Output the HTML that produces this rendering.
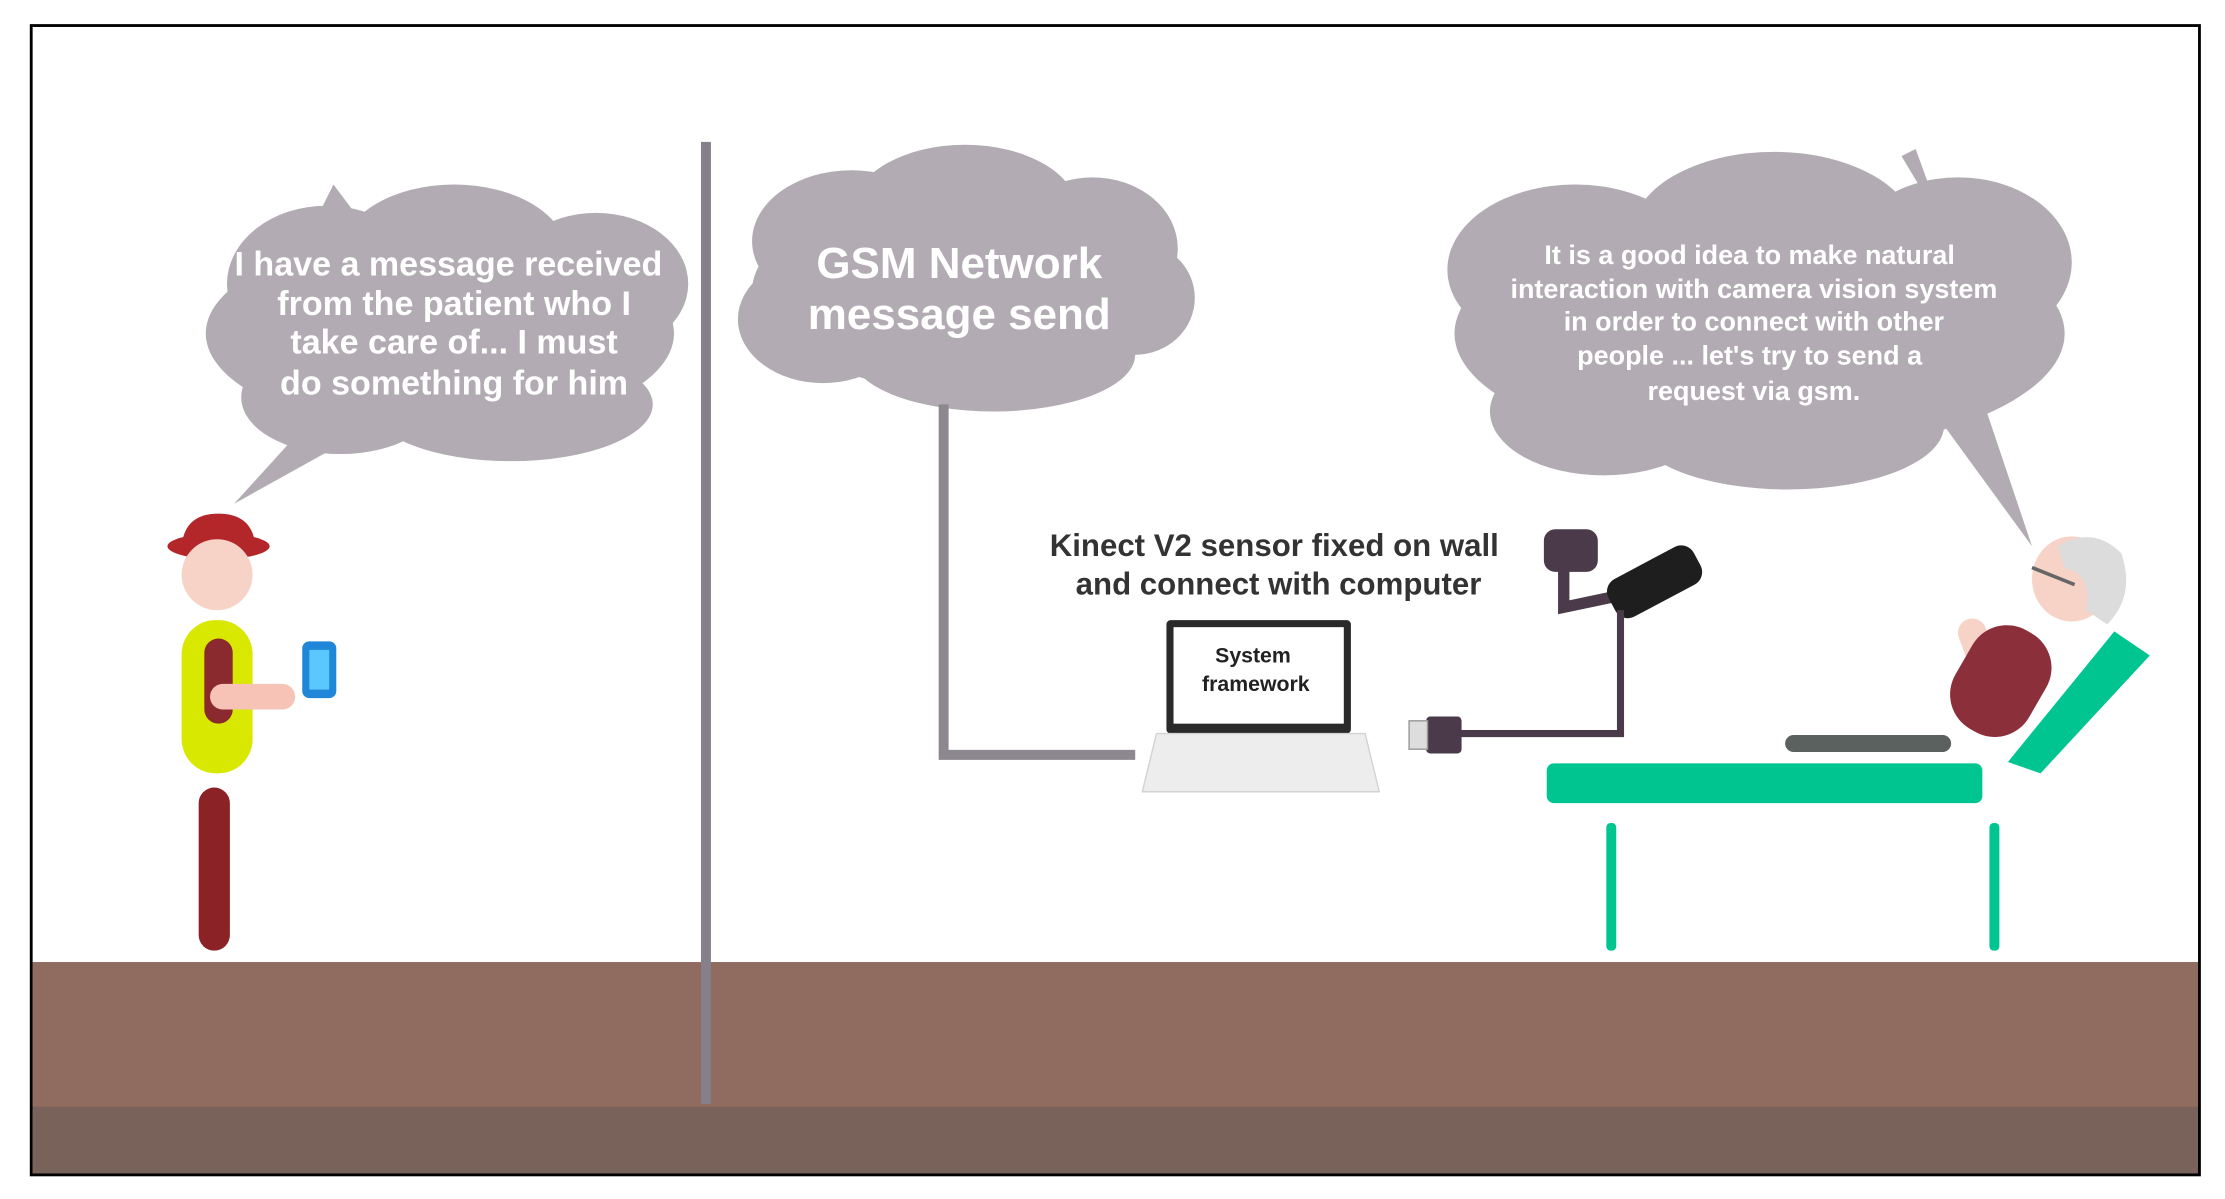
<!DOCTYPE html>
<html><head><meta charset="utf-8"><style>
html,body{margin:0;padding:0;background:#fff;}
svg{display:block;}
text{font-family:"Liberation Sans",sans-serif;font-weight:bold;}
</style></head><body>
<svg width="2225" height="1199" viewBox="0 0 1568 845" preserveAspectRatio="none" xmlns="http://www.w3.org/2000/svg">
<rect x="0" y="0" width="1568" height="845" fill="#fff"/>
<!-- ground -->
<rect x="23" y="678" width="1527" height="104" fill="#8f6b60"/>
<rect x="23" y="780" width="1527" height="48" fill="#796259"/>
<rect x="22" y="18" width="1528" height="810" fill="none" stroke="#000" stroke-width="2"/>
<!-- pole -->
<rect x="494" y="100" width="7" height="678" fill="#85808a"/>

<!-- left cloud -->
<g fill="#b3abb3">
<ellipse cx="310" cy="235" rx="165" ry="70"/>
<ellipse cx="230" cy="200" rx="70" ry="55"/>
<ellipse cx="320" cy="180" rx="80" ry="50"/>
<ellipse cx="420" cy="200" rx="65" ry="50"/>
<ellipse cx="240" cy="280" rx="70" ry="40"/>
<ellipse cx="360" cy="285" rx="100" ry="40"/>
<path d="M215 300 L165 355 L255 305 Z"/>
<path d="M225 150 L235 130 L250 150Z"/>
</g>
<g fill="#fff" font-size="24" text-anchor="middle">
<text x="316" y="194">I have a message received</text>
<text x="320" y="222">from the patient who I</text>
<text x="320" y="249">take care of... I must</text>
<text x="320" y="278">do something for him</text>
</g>

<!-- GSM cloud -->
<g fill="#b3abb3">
<ellipse cx="680" cy="205" rx="150" ry="70"/>
<ellipse cx="600" cy="170" rx="70" ry="50"/>
<ellipse cx="680" cy="150" rx="80" ry="48"/>
<ellipse cx="770" cy="175" rx="60" ry="50"/>
<ellipse cx="800" cy="210" rx="42" ry="40"/>
<ellipse cx="580" cy="225" rx="60" ry="45"/>
<ellipse cx="700" cy="250" rx="100" ry="40"/>
</g>
<g fill="#fff" font-size="31" text-anchor="middle">
<text x="676" y="196">GSM Network</text>
<text x="676" y="232">message send</text>
</g>
<path d="M665 285 L665 532 L800 532" fill="none" stroke="#8d8790" stroke-width="7"/>

<!-- right cloud -->
<g fill="#b3abb3">
<ellipse cx="1240" cy="235" rx="215" ry="85"/>
<ellipse cx="1110" cy="190" rx="90" ry="60"/>
<ellipse cx="1250" cy="165" rx="100" ry="58"/>
<ellipse cx="1380" cy="185" rx="80" ry="60"/>
<ellipse cx="1130" cy="290" rx="80" ry="45"/>
<ellipse cx="1260" cy="300" rx="110" ry="45"/>
<path d="M1340 110 L1350 105 L1370 160 Z"/>
<path d="M1370 300 L1432 385 L1400 290 Z"/>
</g>
<g fill="#fff" font-size="19" text-anchor="middle">
<text x="1233" y="186">It is a good idea to make natural</text>
<text x="1236" y="210">interaction with camera vision system</text>
<text x="1236" y="233">in order to connect with other</text>
<text x="1233" y="257">people ... let's try to send a</text>
<text x="1236" y="282">request via gsm.</text>
</g>

<!-- man -->
<ellipse cx="154" cy="385" rx="36" ry="9" fill="#b3262a"/>
<path d="M128 385 Q130 362 154 362 Q178 362 180 385Z" fill="#b3262a"/>
<circle cx="153" cy="405" r="25" fill="#f6d3c6"/>
<rect x="128" y="437" width="50" height="108" rx="24" fill="#d8e800"/>
<rect x="144" y="450" width="20" height="60" rx="10" fill="#8b2a2e"/>
<rect x="148" y="482" width="60" height="18" rx="9" fill="#f6c3b6"/>
<rect x="213" y="452" width="24" height="40" rx="5" fill="#1f86d8"/>
<rect x="218" y="458" width="14" height="28" fill="#5ac8ff"/>
<rect x="140" y="555" width="22" height="115" rx="11" fill="#8b2326"/>

<!-- kinect label -->
<g fill="#333" font-size="22" text-anchor="middle">
<text x="898" y="392">Kinect V2 sensor fixed on wall</text>
<text x="901" y="419">and connect with computer</text>
</g>

<!-- laptop -->
<rect x="822" y="437" width="130" height="80" rx="3" fill="#2a2a2a"/>
<rect x="827" y="442" width="120" height="68" fill="#fff"/>
<g fill="#222" font-size="15" font-weight="normal" text-anchor="middle" style="font-weight:normal">
<text x="883" y="467">System</text>
<text x="885" y="487">framework</text>
</g>
<path d="M815 517 L962 517 L972 558 L805 558 Z" fill="#ededed" stroke="#d3d3d3"/>

<!-- kinect -->
<rect x="1088" y="373" width="38" height="30" rx="8" fill="#4a3a4a"/>
<path d="M1102 400 L1102 428 L1140 420" fill="none" stroke="#4a3a4a" stroke-width="8"/>
<rect x="1132" y="395" width="68" height="30" rx="10" fill="#1e1e1e" transform="rotate(-28 1166 410)"/>
<path d="M1142 430 L1142 517 L1020 517" fill="none" stroke="#4a3a4a" stroke-width="5"/>
<rect x="1005" y="505" width="25" height="26" rx="3" fill="#4a3a4a"/>
<rect x="993" y="508" width="13" height="20" fill="#ddd" stroke="#999"/>

<!-- bed -->
<rect x="1090" y="538" width="307" height="28" rx="5" fill="#00c590"/>
<rect x="1132" y="580" width="7" height="90" rx="3" fill="#00c590"/>
<rect x="1402" y="580" width="7" height="90" rx="3" fill="#00c590"/>
<path d="M1415 537 L1490 445 L1515 462 L1438 545 Z" fill="#00c590"/>
<rect x="1258" y="518" width="117" height="12" rx="6" fill="#5b615e"/>

<!-- patient -->
<rect x="1385" y="435" width="20" height="50" rx="10" fill="#f6d3c6" transform="rotate(-20 1395 460)"/>
<rect x="1380" y="440" width="60" height="80" rx="28" fill="#8b2f3a" transform="rotate(30 1410 480)"/>
<ellipse cx="1460" cy="408" rx="28" ry="30" fill="#f6d3c6"/>
<path d="M1450 385 Q1475 370 1495 390 Q1505 420 1485 440 L1470 430 Q1475 405 1455 400Z" fill="#dcdcdc"/>
<path d="M1432 400 L1462 412" stroke="#666" stroke-width="2.5"/>
</svg>
</body></html>
